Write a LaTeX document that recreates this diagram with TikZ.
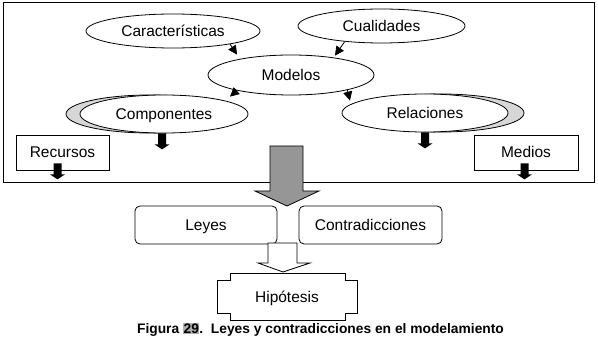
\documentclass[tikz,border=0pt]{standalone}
\usepackage{fontspec}
\setmainfont{Liberation Sans}
\usetikzlibrary{shapes.geometric,arrows.meta,calc}

\definecolor{shadegray}{RGB}{215,215,215}
\definecolor{arrowgray}{RGB}{150,150,150}
\definecolor{markgray}{RGB}{175,175,175}
\newcommand\nodefont{\fontsize{15.5}{18}\selectfont}

\tikzset{
  textfit/.style={font=\nodefont, text height=11pt, text depth=0pt},
  ell/.style={ellipse, draw, fill=white, inner sep=0pt, textfit},
  ellshade/.style={ellipse, draw, fill=shadegray, inner sep=0pt},
  plainbox/.style={rectangle, draw, fill=white, inner sep=0pt, textfit},
  roundbox/.style={plainbox, rounded corners=5pt},
  headarrow/.style={-{Triangle[length=9pt,width=9pt]}},
  blkdown/.pic={\fill (-4,0) -- (4,0) -- (4,11) -- (7.5,11) -- (0,16) -- (-7.5,11) -- (-4,11) -- cycle;}
}

\begin{document}
\begin{tikzpicture}[x=1pt, y=-1pt, line width=0.8pt, line join=miter]
\useasboundingbox (0,0) rectangle (598,342);

% -----------------------
% Frame
% -----------------------
\draw (3,2) rectangle (594,182);

% -----------------------
% Ellipses (shadows first)
% -----------------------
\def\ew{167}   % ellipse width
\def\eh{38}    % ellipse height

\node[ellshade, minimum width=168, minimum height=\eh] (compsh) at (150,114) {};
\node[ellshade, minimum width=166, minimum height=\eh] (relsh)  at (441,113) {};

\node[ell, minimum width=174, minimum height=34] (car)  at (173,31)  {Características};
\node[ell, minimum width=\ew, minimum height=34] (cua)  at (381.5,26) {Cualidades};
\node[ell, minimum width=166, minimum height=40] (mod)  at (291,75)  {Modelos};
\node[ell, minimum width=168, minimum height=\eh] (comp) at (164,114) {Componentes};
\node[ell, minimum width=166, minimum height=\eh] (rel)  at (425,113) {Relaciones};

% arrow heads between ellipses
\draw[headarrow] (car.-13)  -- ($(mod.north)+(-54,0)$);
\draw[headarrow] (cua.203)  -- ($(mod.north)+(44,1)$);
\draw[headarrow] (mod.196)  -- ($(comp.north)+(66,2)$);
\draw[headarrow] (mod.-15)  -- ($(rel.north)+(-75,7)$);

% -----------------------
% Side boxes
% -----------------------
\node[plainbox, minimum width=93,  minimum height=35] (rec) at (62.5,152.5) {Recursos};
\node[plainbox, minimum width=104, minimum height=35] (med) at (526,152.5)  {Medios};

% small black arrows
\pic at ([xshift=-2]comp.south) {blkdown};
\pic at ([xshift=0]rel.south) {blkdown};
\pic at ([shift={(-5,-7)}]rec.south) {blkdown};
\pic at ([shift={(-1.5,-7)}]med.south) {blkdown};

% -----------------------
% Big grey arrow
% -----------------------
\filldraw[fill=arrowgray] (270,146) -- (303,146) -- (303,191) -- (319,191)
  -- (287,206) -- (255,191) -- (270,191) -- cycle;

% -----------------------
% Laws and contradictions
% -----------------------
\node[roundbox, minimum width=142, minimum height=38] (ley) at (206,225)   {Leyes};
\node[roundbox, minimum width=143, minimum height=38] (con) at (370.5,225) {Contradicciones};

% hollow arrow
\filldraw[fill=white] (268,243) -- (297,243) -- (297,263) -- (310,263)
  -- (283,272) -- (258,263) -- (268,263) -- cycle;

% -----------------------
% Hypothesis
% -----------------------
\draw (230,273) -- (345,273) -- (345,280) -- (357,280) -- (357,313) -- (345,313)
  -- (345,320) -- (230,320) -- (230,313) -- (217,313) -- (217,280) -- (230,280) -- cycle;
\node[textfit] (hip) at (287,297) {Hipótesis};

% -----------------------
% Caption
% -----------------------
\setlength\fboxsep{0.5pt}
\node[font=\fontsize{13.8}{16}\selectfont\bfseries] (cap) at (320.5,330)
  {Figura \colorbox{markgray}{29}.\ \ Leyes y contradicciones en el modelamiento};

\end{tikzpicture}
\end{document}
